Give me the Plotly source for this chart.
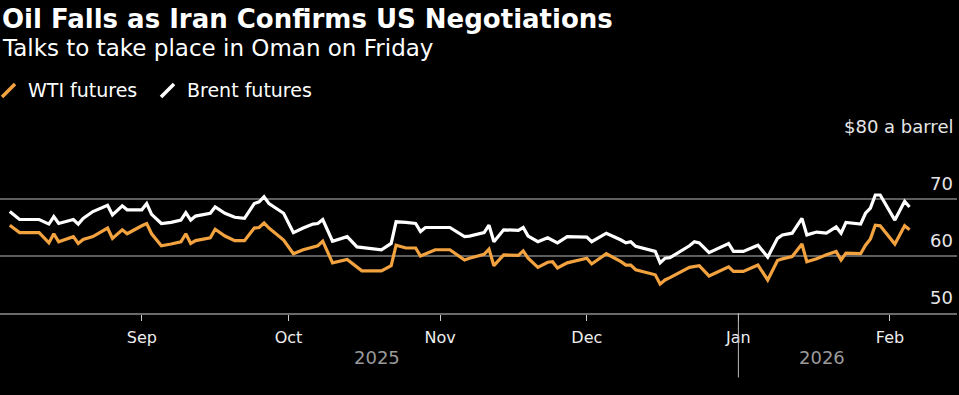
import plotly.graph_objects as go

dates = [
    "2025-08-05", "2025-08-07", "2025-08-11", "2025-08-13", "2025-08-14", "2025-08-15",
    "2025-08-18", "2025-08-19", "2025-08-20", "2025-08-22", "2025-08-25", "2025-08-26",
    "2025-08-28", "2025-08-29", "2025-09-01", "2025-09-02", "2025-09-03", "2025-09-05",
    "2025-09-07", "2025-09-09", "2025-09-10", "2025-09-11", "2025-09-12", "2025-09-15",
    "2025-09-16", "2025-09-18", "2025-09-20", "2025-09-22", "2025-09-24", "2025-09-25",
    "2025-09-26", "2025-09-27", "2025-09-30", "2025-10-02", "2025-10-04", "2025-10-06",
    "2025-10-07", "2025-10-08", "2025-10-10", "2025-10-13", "2025-10-15", "2025-10-16",
    "2025-10-18", "2025-10-20", "2025-10-22", "2025-10-23", "2025-10-25", "2025-10-27",
    "2025-10-28", "2025-10-29", "2025-10-31", "2025-11-03", "2025-11-06", "2025-11-07",
    "2025-11-10", "2025-11-11", "2025-11-12", "2025-11-14", "2025-11-17", "2025-11-18",
    "2025-11-19", "2025-11-21", "2025-11-23", "2025-11-24", "2025-11-25", "2025-11-27",
    "2025-12-01", "2025-12-02", "2025-12-05", "2025-12-08", "2025-12-09", "2025-12-10",
    "2025-12-11", "2025-12-15", "2025-12-16", "2025-12-17", "2025-12-18", "2025-12-22",
    "2025-12-23", "2025-12-24", "2025-12-26", "2025-12-30", "2025-12-31", "2026-01-02",
    "2026-01-05", "2026-01-07", "2026-01-09", "2026-01-10", "2026-01-12", "2026-01-14",
    "2026-01-15", "2026-01-17", "2026-01-19", "2026-01-21", "2026-01-22", "2026-01-23",
    "2026-01-26", "2026-01-27", "2026-01-28", "2026-01-29", "2026-01-30", "2026-02-02",
    "2026-02-04", "2026-02-05",
]

brent = [
    67.8, 66.4, 66.4, 65.6, 66.9, 65.7,
    66.4, 65.6, 66.6, 67.8, 68.9, 67.2,
    68.8, 68.1, 68.1, 69.2, 67.3, 65.7,
    65.9, 66.3, 67.6, 66.3, 67.0, 67.5,
    68.6, 67.5, 66.8, 66.6, 69.2, 69.5,
    70.4, 69.2, 67.5, 64.1, 64.9, 65.6,
    65.7, 66.4, 62.6, 63.4, 61.6, 61.5,
    61.4, 61.1, 62.2, 66.0, 65.9, 65.7,
    64.3, 65.0, 65.0, 65.0, 63.4, 63.5,
    64.1, 65.4, 62.5, 64.6, 64.5, 65.0,
    63.5, 62.5, 63.2, 62.8, 62.3, 63.4,
    63.3, 62.5, 64.0, 62.8, 62.3, 62.5,
    61.7, 60.8, 58.8, 59.6, 59.7, 61.8,
    62.5, 62.3, 60.6, 62.2, 60.8, 60.8,
    61.9, 59.8, 63.1, 63.7, 64.0, 66.6,
    63.7, 64.2, 64.0, 65.1, 64.0, 65.9,
    65.6, 67.5, 68.4, 70.7, 70.7, 66.3,
    69.6, 68.6,
]

wti = [
    65.4, 64.1, 64.1, 62.3, 63.9, 62.5,
    63.4, 62.2, 62.9, 63.4, 64.9, 63.1,
    64.6, 63.9, 65.3, 65.7, 63.9, 61.8,
    62.1, 62.5, 63.9, 62.2, 62.7, 63.2,
    64.7, 63.5, 62.7, 62.7, 64.9, 65.0,
    65.8, 64.9, 62.8, 60.4, 61.1, 61.6,
    61.8, 62.6, 58.8, 59.4, 58.0, 57.4,
    57.4, 57.4, 58.3, 61.9, 61.4, 61.4,
    60.0, 60.4, 61.1, 61.1, 59.3, 59.6,
    60.3, 61.2, 58.3, 60.2, 60.1, 60.9,
    59.6, 58.0, 58.9, 59.0, 57.9, 58.8,
    59.6, 58.6, 60.4, 59.0, 58.4, 58.4,
    57.6, 56.7, 55.1, 55.8, 56.2, 58.0,
    58.2, 58.3, 56.5, 58.1, 57.3, 57.3,
    58.4, 55.8, 59.2, 59.5, 59.9, 62.1,
    59.0, 59.5, 60.2, 60.8, 59.3, 60.5,
    60.4, 61.9, 63.0, 65.4, 65.3, 62.1,
    65.3, 64.6,
]

series_names = ["WTI futures", "Brent futures"]
month_ticks = ["2025-09-01", "2025-10-01", "2025-11-01", "2025-12-01", "2026-01-01", "2026-02-01"]
month_labels = ["Sep", "Oct", "Nov", "Dec", "Jan", "Feb"]
year_positions = ["2025-10-19", "2026-01-18"]
year_labels = ["2025", "2026"]
y_ticks = [50, 60, 70, 80]
y_labels = ["50", "60", "70", "$80 a barrel"]

ORANGE = "#F2A23F"
WHITE = "#FFFFFF"
FONT = "DejaVu Sans"

fig = go.Figure()
fig.add_trace(go.Scatter(x=dates, y=wti, mode="lines", name=series_names[0],
                         line=dict(color=ORANGE, width=3.2), showlegend=False))
fig.add_trace(go.Scatter(x=dates, y=brent, mode="lines", name=series_names[1],
                         line=dict(color=WHITE, width=3.2), showlegend=False))

# plot area geometry (pixels) used to place header items in paper coordinates
W, H = 957.0, 171.0
TOP, LEFT = 142.0, 0.0


def px_x(p):
    return (p - LEFT) / W


def px_y(p):
    return (TOP + H - p) / H


annotations = [
    dict(text="<b>Oil Falls as Iran Confirms US Negotiations</b>", xref="paper", yref="paper",
         x=0.0, y=1.82, xanchor="left", yanchor="top", showarrow=False,
         font=dict(family=FONT, size=26, color="#FFFFFF")),
    dict(text="Talks to take place in Oman on Friday", xref="paper", yref="paper",
         x=0.0, y=1.637, xanchor="left", yanchor="top", showarrow=False,
         font=dict(family=FONT, size=23, color="#FFFFFF")),
]
# legend (slash icon + label)
legend_items = [(series_names[0], ORANGE, 1, 26), (series_names[1], WHITE, 160, 185)]
shapes = []
for name, col, icon_x, text_x in legend_items:
    shapes.append(dict(type="line", xref="paper", yref="paper",
                       x0=px_x(icon_x + 1), y0=px_y(97), x1=px_x(icon_x + 14), y1=px_y(84),
                       line=dict(color=col, width=3.5)))
    annotations.append(dict(text=name, xref="paper", yref="paper", x=px_x(text_x), y=px_y(90),
                            xanchor="left", yanchor="middle", showarrow=False,
                            font=dict(family=FONT, size=19, color="#FFFFFF")))

for v, t in zip(y_ticks, y_labels):
    annotations.append(dict(text=t, xref="paper", yref="y", x=0.998, y=v,
                            xanchor="right", yanchor="bottom", yshift=3, showarrow=False,
                            font=dict(family=FONT, size=18, color="#E6E6E6")))
for xp, t in zip(year_positions, year_labels):
    annotations.append(dict(text=t, xref="x", yref="paper", x=xp, y=-0.26,
                            xanchor="center", yanchor="middle", showarrow=False,
                            font=dict(family=FONT, size=18, color="#9A9A9A")))

shapes.append(dict(type="line", xref="x", yref="paper", x0="2026-01-01", x1="2026-01-01",
                   y0=0, y1=-0.377, line=dict(color="#BBBBBB", width=1)))

fig.update_layout(
    width=959, height=395,
    margin=dict(l=0, r=2, t=142, b=82),
    paper_bgcolor="#000000", plot_bgcolor="#000000",
    font=dict(family=FONT, color="#FFFFFF"),
    annotations=annotations,
    shapes=shapes,
    showlegend=False,
    xaxis=dict(type="date", range=["2025-08-03", "2026-02-14 17:00"],
               tickvals=month_ticks, ticktext=month_labels,
               ticks="outside", ticklen=6, tickcolor="#CCCCCC", tickwidth=1,
               ticklabelstandoff=3,
               tickfont=dict(family=FONT, size=16, color="#EEEEEE"),
               showgrid=False, zeroline=False,
               showline=True, linecolor="#6A6A6A", linewidth=1.5),
    yaxis=dict(range=[50, 80], tickvals=y_ticks, showticklabels=False,
               showgrid=True, gridcolor="#5E5E5E", gridwidth=1.5,
               zeroline=False, showline=False, fixedrange=True),
)

fig.write_html("out.html", config={"displayModeBar": False},
               post_script="document.body.style.margin='0';document.body.style.background='#000';")
